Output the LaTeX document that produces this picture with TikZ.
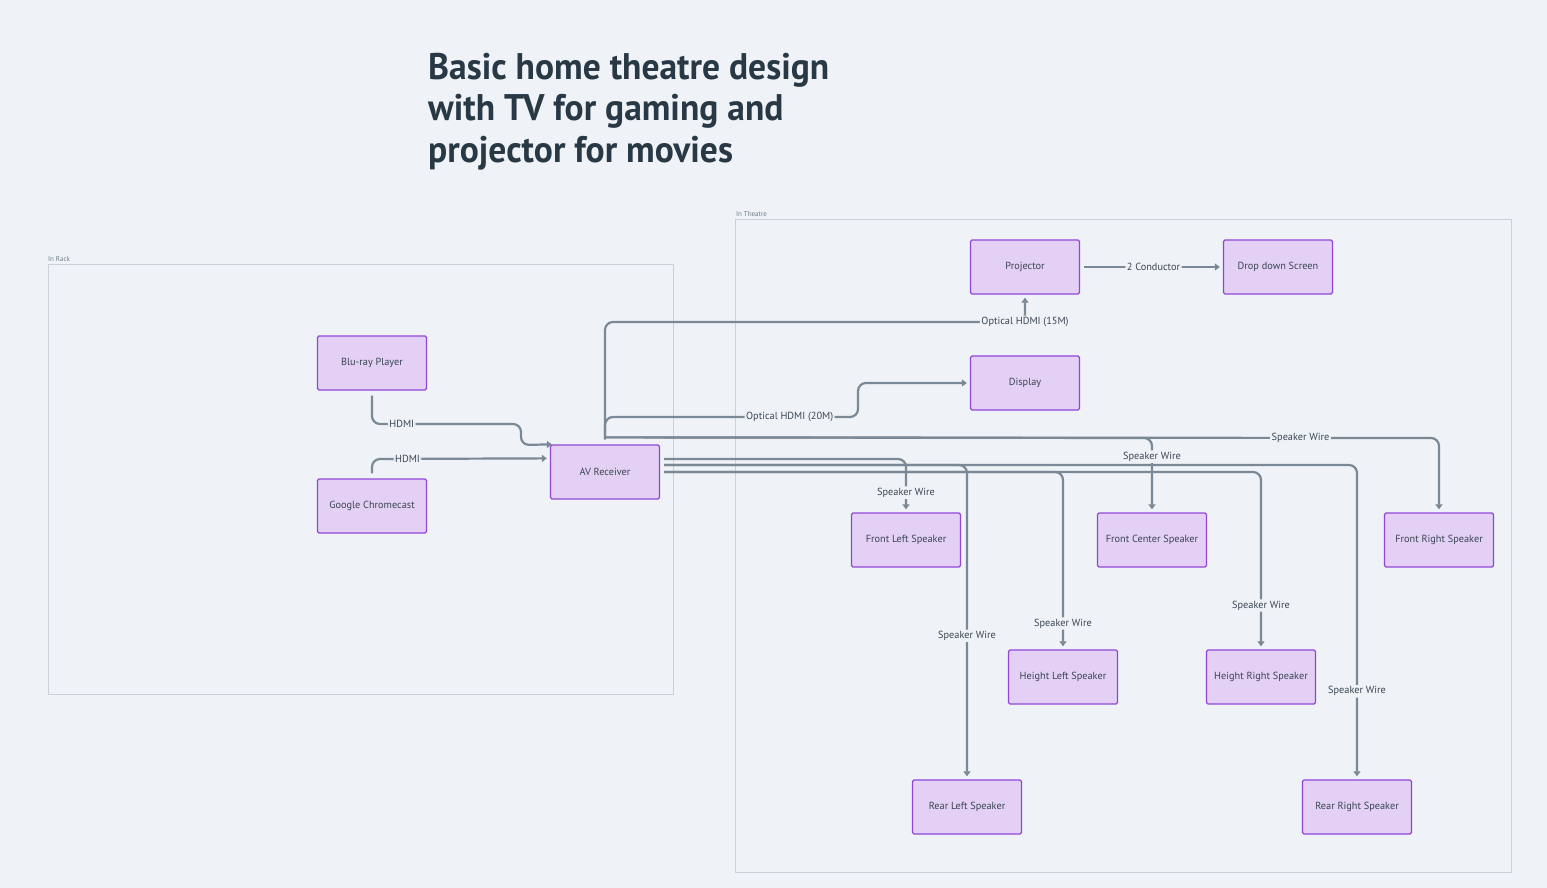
\documentclass[tikz,border=0pt]{standalone}
\usepackage{fontspec}
\setmainfont{PT Sans}
\usetikzlibrary{arrows.meta}
\definecolor{bg}{HTML}{EFF3F7}
\definecolor{nodefill}{HTML}{E3D0F4}
\definecolor{nodeborder}{HTML}{9146D9}
\definecolor{wire}{HTML}{7B8895}
\definecolor{txt}{HTML}{3A4553}
\definecolor{titlec}{HTML}{283845}
\definecolor{grp}{HTML}{C9D1D9}
\definecolor{grptxt}{HTML}{6F7B88}
\begin{document}
\begin{tikzpicture}[x=1pt,y=-1pt,
  box/.style={draw=nodeborder, fill=nodefill, line width=1.3pt, minimum width=109pt, minimum height=54pt, rounded corners=1.5pt, font=\fontsize{10.3}{12}\selectfont, text=txt, inner sep=0pt},
  wire/.style={draw=wire, line width=2.2pt, rounded corners=8pt, -{Triangle[length=5pt,width=7pt]}, shorten >=3pt},
  lbl/.style={fill=bg, inner sep=1.5pt, font=\fontsize{10.3}{12}\selectfont, text=txt},
  grpbox/.style={draw=grp, line width=1pt},
  grplbl/.style={font=\fontsize{7}{8}\selectfont, text=grptxt, anchor=south west, inner sep=0pt},
  ttl/.style={font=\fontsize{37}{40}\bfseries\selectfont, text=titlec, anchor=base west, inner sep=0pt}]
\fill[bg] (0,0) rectangle (1547,888);
\useasboundingbox (0,0) rectangle (1547,888);

% title
\node[ttl] (t1) at (428,80) {\scalebox{0.96}[1]{Basic home theatre design}};
\node[ttl] (t2) at (428,121) {\scalebox{0.96}[1]{with TV for gaming and}};
\node[ttl] (t3) at (428,162) {\scalebox{0.96}[1]{projector for movies}};

% groups
\draw[grpbox] (48,264) rectangle (673,694);
\node[grplbl] (grack) at (48,262) {In Rack};
\draw[grpbox] (735,219) rectangle (1511,872);
\node[grplbl] (gth) at (736,217) {In Theatre};

% nodes
\node[box] (blu) at (372,363) {Blu-ray Player};
\node[box] (gc) at (372,506) {Google Chromecast};
\node[box] (av) at (605,472) {AV Receiver};
\node[box] (proj) at (1025,267) {Projector};
\node[box] (scr) at (1278,267) {Drop down Screen};
\node[box] (disp) at (1025,383) {Display};
\node[box] (fl) at (906,540) {Front Left Speaker};
\node[box] (fc) at (1152,540) {Front Center Speaker};
\node[box] (fr) at (1439,540) {Front Right Speaker};
\node[box] (hl) at (1063,677) {Height Left Speaker};
\node[box] (hr) at (1261,677) {Height Right Speaker};
\node[box] (rl) at (967,807) {Rear Left Speaker};
\node[box] (rr) at (1357,807) {Rear Right Speaker};

% wires
\draw[wire, shorten >=0pt] ([yshift=-5pt]blu.south) -- (372,424) -- node[lbl,pos=0.2]{HDMI} (521,424) -- (521,445) -- ([xshift=2pt]av.north west);
\draw[wire] ([yshift=5pt]gc.north) -- (372,459) -- node[lbl,pos=0.2]{HDMI} ([yshift=-14pt]av.north west);

\draw[wire] ([yshift=5pt]av.north) -- (605,322) -- (1025,322) node[lbl]{Optical HDMI (15M)} -- (proj.south);
\draw[wire] ([yshift=5pt]av.north) -- (605,417) -- node[lbl,pos=0.73]{Optical HDMI (20M)} (858,417) -- (858,383) -- (disp.west);
\draw[wire] ([yshift=7pt]av.north) -- (1152,438) -- node[lbl,pos=0.25]{Speaker Wire} (fc.north);
\draw[wire] ([yshift=7pt]av.north) -- node[lbl,pos=0.834]{Speaker Wire} (1439,438) -- (fr.north);

\draw[wire] ([xshift=4pt,yshift=13pt]av.east) -- (906,459) -- node[lbl,pos=0.63]{Speaker Wire} (fl.north);
\draw[wire] ([xshift=4pt,yshift=7pt]av.east) -- (967,465) -- node[lbl,pos=0.543]{Speaker Wire} (rl.north);
\draw[wire] ([xshift=4pt,yshift=7pt]av.east) -- (1357,465) -- node[lbl,pos=0.72]{Speaker Wire} (rr.north);
\draw[wire] ([xshift=4pt]av.east) -- (1063,472) -- node[lbl,pos=0.854]{Speaker Wire} (hl.north);
\draw[wire] ([xshift=4pt]av.east) -- (1261,472) -- node[lbl,pos=0.753]{Speaker Wire} (hr.north);

\draw[wire] ([xshift=4pt]proj.east) -- node[lbl]{2 Conductor} (scr.west);
\end{tikzpicture}
\end{document}
